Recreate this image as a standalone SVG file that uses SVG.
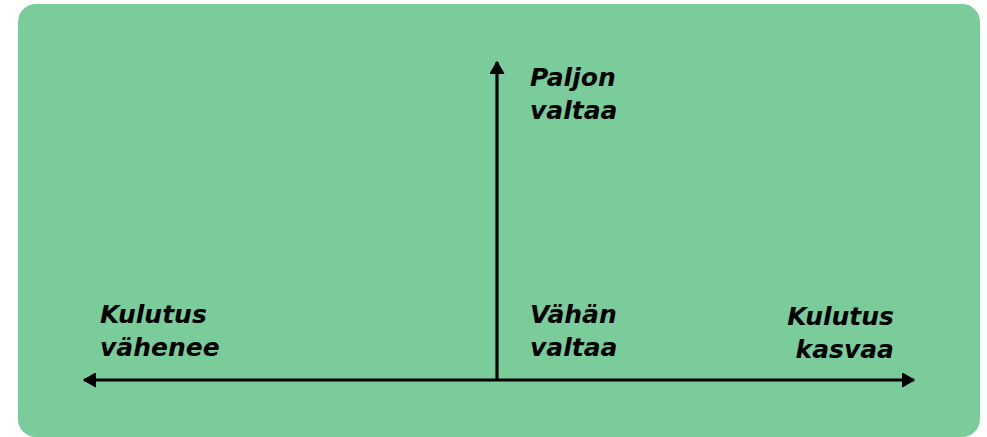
<svg xmlns="http://www.w3.org/2000/svg" width="987" height="437" viewBox="0 0 987 437">
<style>
.lbl{font-family:"DejaVu Sans","Open Sans",sans-serif;font-weight:700;font-style:italic;font-size:25px;fill:#000;}
.ax{stroke:#000;stroke-width:3.2;fill:none;}
</style>
<defs>
<marker id="ah" viewBox="0 0 13 15" refX="12" refY="7.5" markerWidth="13" markerHeight="15" markerUnits="userSpaceOnUse" orient="auto">
<path d="M0.5,0.5 L12.5,7.5 L0.5,14.5 Z" fill="#000" stroke="#000" stroke-width="1" stroke-linejoin="round"/>
</marker>
</defs>
<rect id="bg" x="18" y="4" width="962" height="433" rx="18" fill="#7acc9a"/>
<g id="connectors">
<line class="ax" x1="497" y1="380" x2="84" y2="380" marker-end="url(#ah)"/>
<line class="ax" x1="497" y1="380" x2="914" y2="380" marker-end="url(#ah)"/>
<line class="ax" x1="497" y1="381" x2="497" y2="62" marker-end="url(#ah)"/>
</g>
<g id="paljon"><text class="lbl" x="530" y="86">Paljon</text><text class="lbl" x="530" y="119">valtaa</text></g>
<g id="vahan"><text class="lbl" x="530" y="323">Vähän</text><text class="lbl" x="530" y="356">valtaa</text></g>
<g id="vahenee"><text class="lbl" x="100" y="323">Kulutus</text><text class="lbl" x="100" y="356">vähenee</text></g>
<g id="kasvaa"><text class="lbl" x="894" y="325" text-anchor="end">Kulutus</text><text class="lbl" x="894" y="358" text-anchor="end">kasvaa</text></g>
</svg>
